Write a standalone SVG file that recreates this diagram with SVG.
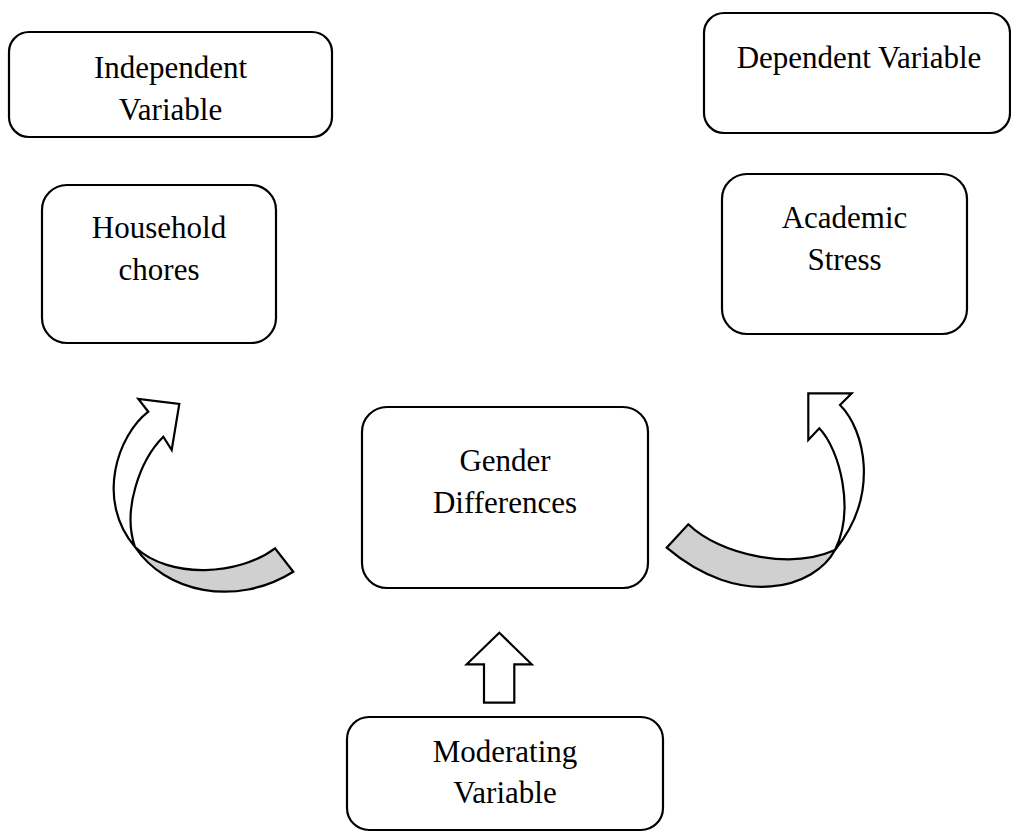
<svg xmlns="http://www.w3.org/2000/svg" width="1011" height="833" viewBox="0 0 1011 833">
<style>
.box{fill:#fff;stroke:#000;stroke-width:2.2}
.t{font-family:"Liberation Serif","Times New Roman",serif;font-size:31px;fill:#000;text-anchor:middle}
.aw{fill:#fff;stroke:#000;stroke-width:2.2;stroke-linejoin:miter}
.ag{fill:#d0d0d0;stroke:#000;stroke-width:2.2;stroke-linejoin:miter}
</style>
<rect width="1011" height="833" fill="#fff"/>
<g id="independent-variable">
<rect class="box" x="9" y="32" width="323" height="105" rx="20"/>
<text class="t" x="170.5" y="78">Independent</text>
<text class="t" x="170.5" y="120">Variable</text>
</g>
<g id="household-chores">
<rect class="box" x="42" y="185" width="234" height="158" rx="25"/>
<text class="t" x="159" y="238">Household</text>
<text class="t" x="159" y="280">chores</text>
</g>
<g id="dependent-variable">
<rect class="box" x="704" y="13" width="306" height="120" rx="20"/>
<text class="t" x="859" y="68">Dependent Variable</text>
</g>
<g id="academic-stress">
<rect class="box" x="722" y="174" width="245" height="160" rx="25"/>
<text class="t" x="844.5" y="228">Academic</text>
<text class="t" x="844.5" y="270">Stress</text>
</g>
<g id="gender-differences">
<rect class="box" x="362" y="407" width="286" height="181" rx="25"/>
<text class="t" x="505" y="471">Gender</text>
<text class="t" x="505" y="513">Differences</text>
</g>
<g id="moderating-variable">
<rect class="box" x="347" y="717" width="316" height="113" rx="22"/>
<text class="t" x="505" y="762">Moderating</text>
<text class="t" x="505" y="803">Variable</text>
</g>
<g id="connectors">
<path class="ag" d="M135,547 C165,592 235,608 293.3,571.7 L275,548.3 C240,575 170,580 135,547 Z"/>
<path class="aw" d="M148.3,411.7 L138.3,399 L179.3,404 L171.7,450 L163.3,436.7 C140,460 122,510 135,547 C95,500 118,435 148.3,411.7 Z"/>
<path class="ag" d="M835,550 C815,588 740,610 666.7,547.7 L688.3,524.3 C720,555 790,570 835,550 Z"/>
<path class="aw" d="M840,405 L851.7,393.3 L808.3,393.3 L808.3,440 L819.3,428.3 C840,450 855,510 835,550 C880,495 865,430 840,405 Z"/>
<path class="aw" d="M499.3,632.7 L531.7,664.3 L514.3,664.3 L514.3,702.7 L484,702.7 L484,664.3 L466.7,664.3 Z"/>
</g>
</svg>
